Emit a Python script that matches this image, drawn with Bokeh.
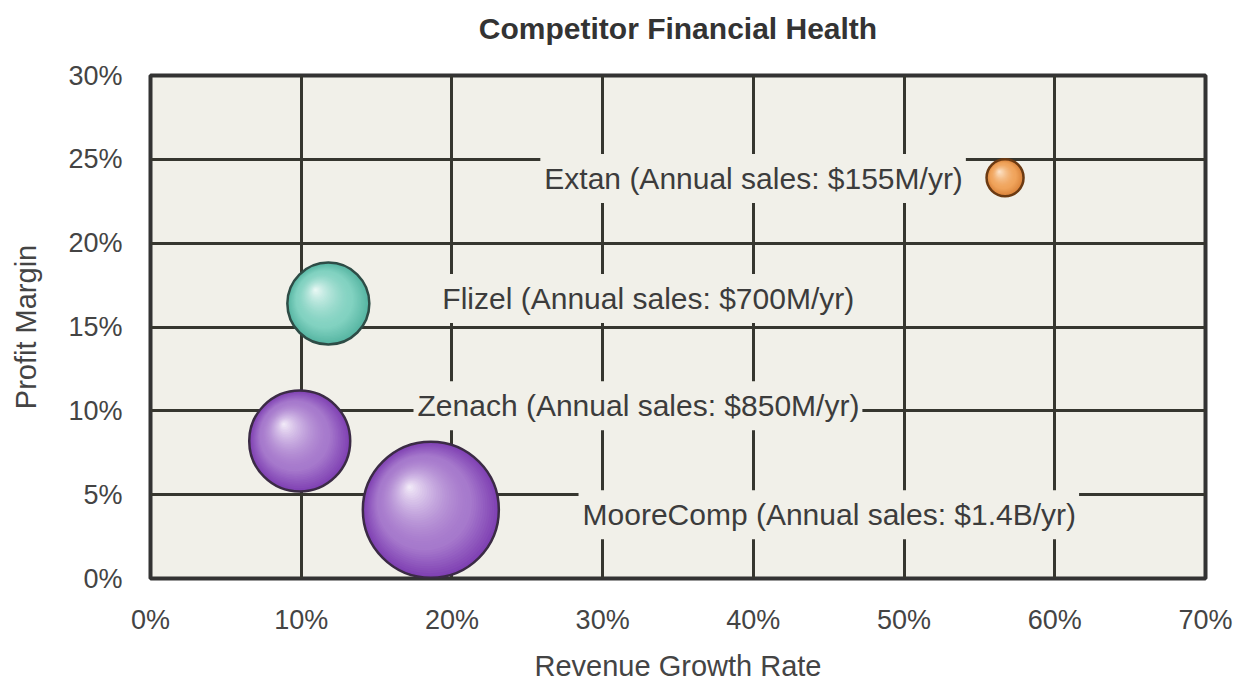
import numpy as np
from bokeh.plotting import figure
from bokeh.models import Range1d, FixedTicker, Label, ColumnDataSource, Title
from bokeh.embed import file_html
from bokeh.resources import INLINE

# ---------------- data ----------------
companies = ["Extan", "Flizel", "Zenach", "MooreComp"]
revenue_growth = [56.7, 11.8, 9.9, 18.6]        # % (x)
profit_margin = [23.9, 16.4, 8.2, 4.1]          # % (y)
annual_sales_text = ["$155M/yr", "$700M/yr", "$850M/yr", "$1.4B/yr"]
annual_sales_musd = [155, 700, 850, 1400]

x_ticks = [0, 10, 20, 30, 40, 50, 60, 70]
x_tick_labels = ["0%", "10%", "20%", "30%", "40%", "50%", "60%", "70%"]
y_ticks = [0, 5, 10, 15, 20, 25, 30]
y_tick_labels = ["0%", "5%", "10%", "15%", "20%", "25%", "30%"]

# ---------------- styling / layout ----------------
FRAME_W, FRAME_H = 1055, 503
X_MAX, Y_MAX = 70, 30
PX_X = FRAME_W / X_MAX
PX_Y = FRAME_H / Y_MAX
BG = "#f1f0e9"
GRID = "#36362f"
TEXT = "#3c3c3c"
FONT = "Liberation Sans"

# bubble size scale (sales -> diameter in px)
size_domain = [155, 700, 850, 1400]
size_range = [37, 82, 101, 136]

# per-bubble colours: edge, body, highlight, outline
palette = {
    "Extan": ("#d9823a", "#f0a45c", "#fde8d2", "#6b3a12"),
    "Flizel": ("#56b5a2", "#82d2c1", "#eefaf7", "#2e4c46"),
    "Zenach": ("#7f40b3", "#a679cc", "#f5effa", "#3b2b45"),
    "MooreComp": ("#7f40b3", "#a679cc", "#f5effa", "#3b2b45"),
}

# label anchors (data units) and alignment
label_anchor = {
    "Extan": (54.1, 23.85, "right"),
    "Flizel": (19.1, 16.7, "left"),
    "Zenach": (17.45, 10.3, "left"),
    "MooreComp": (28.4, 3.8, "left"),
}


def hex2rgb(h):
    h = h.lstrip("#")
    return np.array([int(h[i:i + 2], 16) for i in (0, 2, 4)], dtype=float)


def mix(a, b, t):
    c = a + (b - a) * t
    return "#%02x%02x%02x" % tuple(int(round(v)) for v in c)


p = figure(
    frame_width=FRAME_W, frame_height=FRAME_H,
    min_border_left=150, min_border_right=36,
    min_border_top=75, min_border_bottom=105,
    x_range=Range1d(0, X_MAX), y_range=Range1d(0, Y_MAX),
    output_backend="svg", toolbar_location=None,
    title="Competitor Financial Health",
    background_fill_color=BG, border_fill_color="white",
)

p.title.align = "center"
p.title.text_font = FONT
p.title.text_font_size = "30px"
p.title.text_font_style = "bold"
p.title.text_color = "#333333"
p.title.standoff = 0

# empty spacer between title and frame
p.add_layout(Title(text=" ", text_font_size="2px", standoff=27), "above")

p.outline_line_color = "#333333"
p.outline_line_width = 4

for ax, ticks, labels in ((p.xaxis[0], x_ticks, x_tick_labels), (p.yaxis[0], y_ticks, y_tick_labels)):
    ax.ticker = FixedTicker(ticks=ticks)
    ax.major_label_overrides = {t: l for t, l in zip(ticks, labels)}
    ax.axis_line_color = None
    ax.major_tick_line_color = None
    ax.minor_tick_line_color = None
    ax.major_label_text_font = FONT
    ax.major_label_text_font_size = "27px"
    ax.major_label_text_color = "#444444"
    ax.axis_label_text_font = FONT
    ax.axis_label_text_font_size = "29px"
    ax.axis_label_text_font_style = "normal"
    ax.axis_label_text_color = "#444444"

p.xaxis.axis_label = "Revenue Growth Rate"
p.yaxis.axis_label = "Profit Margin"
p.xaxis.major_label_standoff = 20
p.xaxis.axis_label_standoff = 12
p.yaxis.major_label_standoff = 22
p.yaxis.axis_label_standoff = 23

p.xgrid.ticker = FixedTicker(ticks=x_ticks)
p.ygrid.ticker = FixedTicker(ticks=y_ticks)
for g in (p.xgrid[0], p.ygrid[0]):
    g.grid_line_color = GRID
    g.grid_line_width = 3

# ---------------- shaded spheres (layered circles) ----------------
diam = np.interp(annual_sales_musd, size_domain, size_range)
N = 40
xs, ys, ss, cs = [], [], [], []
for k in range(N):
    t = k / N
    for i, name in enumerate(companies):
        edge, body, hi, _ = (hex2rgb(c) for c in palette[name])
        d = diam[i]
        hx, hy = -0.16 * d, 0.17 * d            # highlight offset in px
        xs.append(revenue_growth[i] + t * hx / PX_X)
        ys.append(profit_margin[i] + t * hy / PX_Y)
        ss.append(d * (1 - t))
        if t < 0.3:
            col = mix(edge, body, t / 0.3)
        else:
            col = mix(body, hi, ((t - 0.3) / 0.7) ** 1.6)
        cs.append(col)

p.scatter(x="x", y="y", size="s", fill_color="c", line_color=None,
          source=ColumnDataSource(dict(x=xs, y=ys, s=ss, c=cs)))

outline_src = ColumnDataSource(dict(
    x=revenue_growth, y=profit_margin, s=list(diam),
    lc=[palette[n][3] for n in companies]))
p.scatter(x="x", y="y", size="s", fill_color=None, line_color="lc",
          line_width=2.5, source=outline_src)

# ---------------- labels ----------------
for name, sales in zip(companies, annual_sales_text):
    lx, ly, align = label_anchor[name]
    p.add_layout(Label(
        x=lx, y=ly, text=f"{name} (Annual sales: {sales})",
        text_align=align, text_baseline="middle",
        text_font=FONT, text_font_size="30px", text_color=TEXT,
        background_fill_color=BG,
        padding=dict(left=4, right=3, top=8, bottom=8),
    ))

open("out.html", "w").write(file_html(p, INLINE))
